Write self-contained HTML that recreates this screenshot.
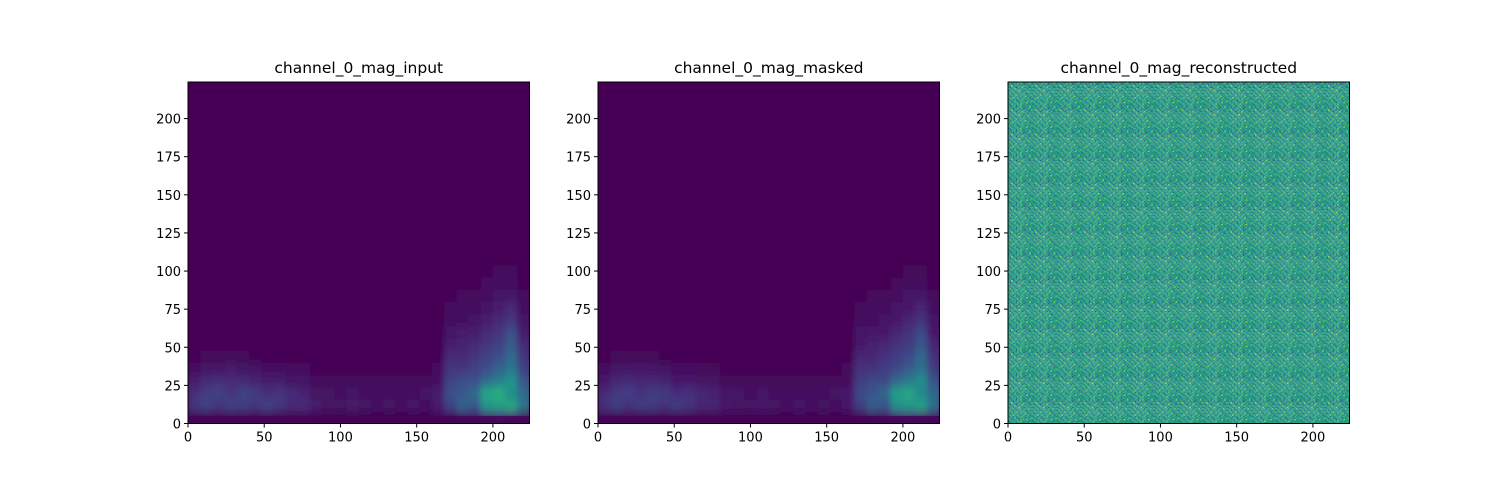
<!DOCTYPE html>
<html><head><meta charset="utf-8"><style>
body{margin:0;background:#fff;}
svg{display:block;font-family:"DejaVu Sans","Liberation Sans",sans-serif;}
</style></head><body>
<svg id="fig" width="1500" height="500" viewBox="0 0 1500 500">
<defs><filter id="blur" filterUnits="userSpaceOnUse" x="0" y="0" width="1500" height="500"><feGaussianBlur stdDeviation="3 5"/></filter></defs>
</svg>
<script>
// coarse spectrogram magnitude: rows bottom-up, each row = 8 units of y, each col = 8 units of x
const specRows = [
 [.04,.05,.05,.05,.05,.05,.05,.05,.04,.04,.04,.04,.04,.04,.04,.04,.04,.04,.04,.04,.05,.1,.15,.2,.3,.35,.3,.2],
 [.25,.3,.25,.3,.28,.25,.3,.25,.2,.2,.15,.12,.12,.15,.12,.1,.12,.1,.12,.1,.15,.3,.45,.4,.7,.75,.8,.55],
 [.22,.28,.3,.25,.3,.28,.22,.25,.2,.18,.12,.12,.1,.12,.1,.1,.1,.1,.1,.12,.15,.35,.4,.5,.8,.85,.65,.5],
 [.15,.2,.22,.2,.2,.18,.15,.15,.12,.12,.08,.08,.08,.08,.08,.08,.08,.08,.08,.08,.1,.3,.35,.35,.5,.6,.7,.4],
 [.1,.12,.12,.15,.12,.12,.1,.1,.08,.08,.06,.06,.06,.06,.06,.06,.06,.06,.06,.06,.08,.25,.25,.3,.35,.45,.55,.3],
 [.06,.08,.08,.08,.08,.06,.06,.05,.05,.05,.05,.05,.05,.05,.05,.05,.05,.05,.05,.05,.06,.2,.2,.25,.3,.35,.5,.25],
 [.04,.06,.05,.05,.05,.04,.04,.04,.04,.04,.04,.04,.04,.04,.04,.04,.04,.04,.04,.04,.05,.15,.18,.2,.25,.3,.4,.2],
 [.03,.04,.04,.04,.04,.03,.03,.03,.03,.03,.03,.03,.03,.03,.03,.03,.03,.03,.03,.03,.04,.12,.15,.15,.2,.25,.35,.15],
 [.02,.03,.03,.03,.03,.03,.02,.02,.02,.02,.02,.02,.02,.02,.02,.02,.02,.02,.02,.02,.03,.1,.1,.12,.15,.2,.25,.12],
 [.02,.02,.02,.02,.02,.02,.02,.02,.02,.02,.02,.02,.02,.02,.02,.02,.02,.02,.02,.02,.03,.08,.1,.1,.12,.15,.2,.1],
 [.02,.02,.02,.02,.02,.02,.02,.02,.02,.02,.02,.02,.02,.02,.02,.02,.02,.02,.02,.02,.02,.06,.08,.08,.1,.12,.12,.08],
 [.01,.01,.01,.01,.01,.01,.01,.01,.01,.01,.01,.01,.01,.01,.01,.01,.01,.01,.01,.01,.02,.05,.06,.06,.08,.1,.1,.06],
 [.01,.01,.01,.01,.01,.01,.01,.01,.01,.01,.01,.01,.01,.01,.01,.01,.01,.01,.01,.01,.02,.04,.05,.05,.06,.08,.08,.05],
 [.01,.01,.01,.01,.01,.01,.01,.01,.01,.01,.01,.01,.01,.01,.01,.01,.01,.01,.01,.01,.01,.03,.04,.04,.05,.06,.06,.04]
];
const maskedGain = [1, 0.95];
// reconstructed noise tile (16x16 units), tiled across the image
const noiseTile = [
 [.5,.55,.45,.6,.5,.42,.58,.5,.65,.48,.52,.4,.55,.5,.7,.45],
 [.45,.6,.5,.35,.55,.5,.62,.44,.5,.58,.3,.55,.48,.6,.5,.52],
 [.58,.48,.72,.5,.45,.6,.4,.55,.5,.45,.62,.5,.56,.42,.5,.6],
 [.5,.4,.55,.6,.52,.3,.55,.6,.48,.7,.5,.45,.6,.5,.38,.55],
 [.62,.5,.45,.5,.65,.55,.48,.42,.58,.5,.55,.6,.44,.52,.6,.48],
 [.42,.56,.6,.48,.5,.6,.52,.75,.45,.55,.4,.5,.62,.48,.55,.5],
 [.55,.45,.5,.62,.4,.5,.58,.5,.6,.35,.58,.52,.5,.68,.45,.6],
 [.5,.65,.42,.55,.58,.45,.5,.6,.5,.55,.62,.45,.52,.5,.6,.4],
 [.48,.52,.6,.45,.5,.68,.44,.5,.55,.6,.48,.58,.4,.55,.5,.62],
 [.6,.38,.55,.5,.6,.5,.55,.45,.62,.5,.52,.7,.55,.45,.58,.5],
 [.5,.6,.5,.7,.45,.55,.6,.52,.4,.56,.6,.45,.5,.62,.35,.55],
 [.45,.55,.62,.4,.55,.48,.5,.6,.5,.65,.45,.55,.6,.5,.55,.48],
 [.6,.5,.45,.55,.62,.52,.35,.55,.58,.5,.6,.4,.52,.58,.5,.65],
 [.52,.62,.5,.48,.5,.6,.55,.45,.5,.62,.5,.56,.72,.45,.6,.5],
 [.4,.5,.58,.6,.45,.55,.6,.5,.68,.45,.55,.5,.48,.55,.42,.58],
 [.58,.45,.5,.52,.6,.4,.5,.62,.5,.55,.38,.6,.55,.5,.6,.5]
];
const xTicks = [0,50,100,150,200];
const yTicks = [0,25,50,75,100,125,150,175,200];
const titles = ["channel_0_mag_input","channel_0_mag_masked","channel_0_mag_reconstructed"];
const panelLeft = [188,598,1008];

const NS="http://www.w3.org/2000/svg";
const svg=document.getElementById('fig');
const TOP=82, SIZE=341.5, N=224;
function mk(t,a,p){const e=document.createElementNS(NS,t);for(const k in a)e.setAttribute(k,a[k]);(p||svg).appendChild(e);return e;}
const stops=[[0,68,1,84],[.13,71,44,122],[.25,59,82,139],[.38,44,113,142],[.5,33,145,140],[.63,39,173,129],[.75,94,201,98],[.88,170,220,50],[1,253,231,37]];
function viridis(v){v=Math.max(0,Math.min(1,v));for(let i=1;i<stops.length;i++){if(v<=stops[i][0]){const a=stops[i-1],b=stops[i],t=(v-a[0])/(b[0]-a[0]);return `rgb(${Math.round(a[1]+t*(b[1]-a[1]))},${Math.round(a[2]+t*(b[2]-a[2]))},${Math.round(a[3]+t*(b[3]-a[3]))})`;}}return 'rgb(253,231,37)';}
function adj(v){return Math.max(0,v-0.05)*0.8;}

panelLeft.forEach((L,pi)=>{
  const xs=v=>L+v/N*SIZE, ys=v=>TOP+SIZE-v/N*SIZE;
  const g=mk('g',{});
  
  
  const cp=mk('clipPath',{id:'cp'+pi},svg);mk('rect',{x:L,y:TOP,width:SIZE,height:SIZE},cp);
  g.setAttribute('clip-path','url(#cp'+pi+')');
  if(pi<2){
    mk('rect',{x:L,y:TOP,width:SIZE,height:SIZE,fill:viridis(0)},g);
    const inner=mk('g',{filter:'url(#blur)'},g);
    mk('rect',{x:L-20,y:TOP-20,width:SIZE+40,height:SIZE+40,fill:viridis(0)},inner);
    const gain=maskedGain[pi];
    specRows.forEach((row,r)=>row.forEach((v,c)=>{
      const y0=r*8, x0=c*8;
      const val = r===0 ? v*0.6 : v;
      const cell=mk('rect',{x:xs(x0),y:ys(y0+8),width:xs(x0+8)-xs(x0)+0.5,height:ys(y0)-ys(y0+8)+0.5,fill:viridis(adj(val*gain))},inner);
      
      
    }));
    // dark bottom band (y 0-5)
    mk('rect',{x:L,y:ys(5),width:SIZE,height:ys(0)-ys(5),fill:viridis(0.01),opacity:0.85},g);
  } else {
    const pat=mk('pattern',{id:'noise',patternUnits:'userSpaceOnUse',x:L,y:TOP,width:16/N*SIZE,height:16/N*SIZE},svg);
    noiseTile.forEach((row,r)=>row.forEach((v,c)=>{
      mk('rect',{x:c/N*SIZE,y:r/N*SIZE,width:1/N*SIZE+0.1,height:1/N*SIZE+0.1,fill:viridis(0.5+(v-0.5)*1.6)},pat);
    }));
    const n=mk('rect',{x:L,y:TOP,width:SIZE,height:SIZE,fill:'url(#noise)'},g);
    
    
  }
  const frame=mk('rect',{x:L,y:TOP,width:SIZE,height:SIZE,fill:'none',stroke:'#000','stroke-width':1});
  
  
  xTicks.forEach(t=>{
    mk('line',{x1:xs(t),x2:xs(t),y1:TOP+SIZE,y2:TOP+SIZE+4,stroke:'#000'});
    const tx=mk('text',{x:xs(t),y:TOP+SIZE+18,'text-anchor':'middle','font-size':13,fill:'#000'});tx.textContent=t;
    
    
  });
  yTicks.forEach(t=>{
    mk('line',{x1:L-4,x2:L,y1:ys(t),y2:ys(t),stroke:'#000'});
    const tx=mk('text',{x:L-7,y:ys(t)+5,'text-anchor':'end','font-size':13,fill:'#000'});tx.textContent=t;
    
    
  });
  const tt=mk('text',{x:L+SIZE/2,y:TOP-9,'text-anchor':'middle','font-size':15.5,fill:'#000'});tt.textContent=titles[pi];
  
  
});
</script>
</body></html>
